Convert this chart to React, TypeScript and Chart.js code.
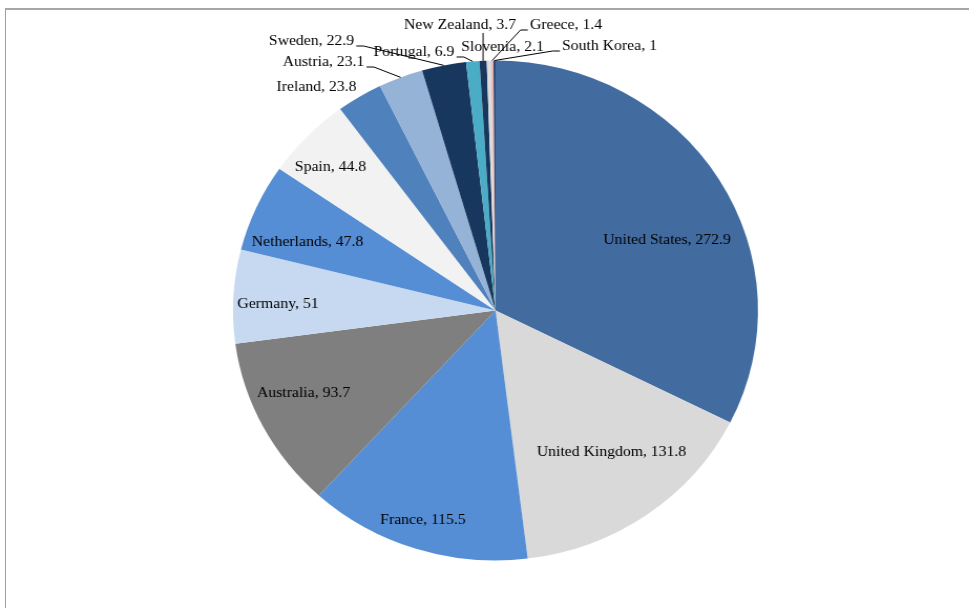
import React, { useEffect, useRef } from "react";
import { Chart, registerables } from "chart.js";

Chart.register(...registerables);

const CATEGORIES = [
  "United States",
  "United Kingdom",
  "France",
  "Australia",
  "Germany",
  "Netherlands",
  "Spain",
  "Ireland",
  "Austria",
  "Sweden",
  "Portugal",
  "New Zealand",
  "Slovenia",
  "Greece",
  "South Korea",
];

const VALUES = [272.9, 131.8, 115.5, 93.7, 51, 47.8, 44.8, 23.8, 23.1, 22.9, 6.9, 3.7, 2.1, 1.4, 1];

const COLORS = [
  "#426ca0",
  "#d9d9d9",
  "#558ed5",
  "#7f7f7f",
  "#c6d9f1",
  "#558ed5",
  "#f2f2f2",
  "#4f81bd",
  "#95b3d7",
  "#17375e",
  "#4bacc6",
  "#17375e",
  "#dcdcdc",
  "#e6b9b8",
  "#1f3864",
];

// label centre offsets from the pie centre (in pixels, for a 250px radius, before horizontal stretch)
const LABEL_DX = [171.5, 116, -72.5, -192, -217.5, -188, -165, -179, -172, -184, -81.5, -35.5, 7, 70.5, 114].map(
  (v) => v / 1.05
);
const LABEL_DY = [-70.5, 141.5, 209.5, 82.5, -6.5, -68.5, -143.5, -223.5, -248.5, -269.5, -258.5, -285.5, -263.5, -285.5, -264.5];
const LEADER = [false, false, false, false, false, false, false, false, true, true, true, true, false, true, true];

const STRETCH = 1.05;
const CANVAS_W = 923;
const CANVAS_H = 608;

const labelPlugin = {
  id: "pieLabels",
  afterDatasetsDraw(chart: any) {
    const ctx = chart.ctx as CanvasRenderingContext2D;
    const meta = chart.getDatasetMeta(0);
    ctx.save();
    ctx.font = '15px "Liberation Serif", "Times New Roman", serif';
    ctx.textAlign = "center";
    ctx.textBaseline = "middle";
    ctx.fillStyle = "#000";
    ctx.strokeStyle = "#000";
    ctx.lineWidth = 1;
    meta.data.forEach((arc: any, i: number) => {
      const p = arc.getProps(["x", "y", "outerRadius", "startAngle", "endAngle"], true);
      const s = p.outerRadius / 250;
      const tx = p.x + LABEL_DX[i] * s;
      const ty = p.y + LABEL_DY[i] * s;
      const text = `${CATEGORIES[i]}, ${VALUES[i]}`;
      ctx.fillText(text, tx, ty);
      if (LEADER[i]) {
        const mid = (p.startAngle + p.endAngle) / 2;
        const ax = p.x + Math.cos(mid) * p.outerRadius;
        const ay = p.y + Math.sin(mid) * p.outerRadius;
        const w = ctx.measureText(text).width;
        ctx.beginPath();
        if (ax > tx - w / 2 && ax < tx + w / 2) {
          ctx.moveTo(ax, ty + 8);
          ctx.lineTo(ax, ay);
        } else {
          const right = ax > tx;
          const sx = right ? tx + w / 2 + 2 : tx - w / 2 - 2;
          const sy = ty + 5;
          const hx = right ? sx + 7 : sx - 7;
          ctx.moveTo(sx, sy);
          ctx.lineTo(hx, sy);
          ctx.lineTo(ax, ay);
        }
        ctx.stroke();
      }
    });
    ctx.restore();
  },
};

export default function App() {
  const canvasRef = useRef<HTMLCanvasElement | null>(null);

  useEffect(() => {
    document.body.style.margin = "0";
    const canvas = canvasRef.current;
    if (!canvas) return;
    const chart = new Chart(canvas, {
      type: "pie",
      data: {
        labels: CATEGORIES,
        datasets: [
          {
            data: VALUES,
            backgroundColor: COLORS,
            borderWidth: 0,
            hoverOffset: 0,
          },
        ],
      },
      options: {
        animation: false,
        responsive: true,
        maintainAspectRatio: false,
        layout: {
          padding: { left: 221.9, right: 201.1, top: 60.5, bottom: 47.5 },
        },
        plugins: {
          legend: { display: false },
          tooltip: { enabled: false },
        },
        events: [],
      },
      plugins: [labelPlugin],
    });
    return () => chart.destroy();
  }, []);

  return (
    <div style={{ position: "fixed", left: 0, top: 0, width: 969, height: 608, background: "#fff", overflow: "hidden" }}>
      <div
        style={{
          position: "absolute",
          left: 5,
          top: 8,
          width: 980,
          height: 620,
          borderTop: "2px solid #a6a6a6",
          borderLeft: "1px solid #a0a0a0",
          boxSizing: "border-box",
        }}
      />
      <div
        style={{
          position: "absolute",
          left: 0,
          top: 0,
          width: CANVAS_W,
          height: CANVAS_H,
          transform: `scaleX(${STRETCH})`,
          transformOrigin: "0 0",
        }}
      >
        <canvas ref={canvasRef} />
      </div>
    </div>
  );
}
